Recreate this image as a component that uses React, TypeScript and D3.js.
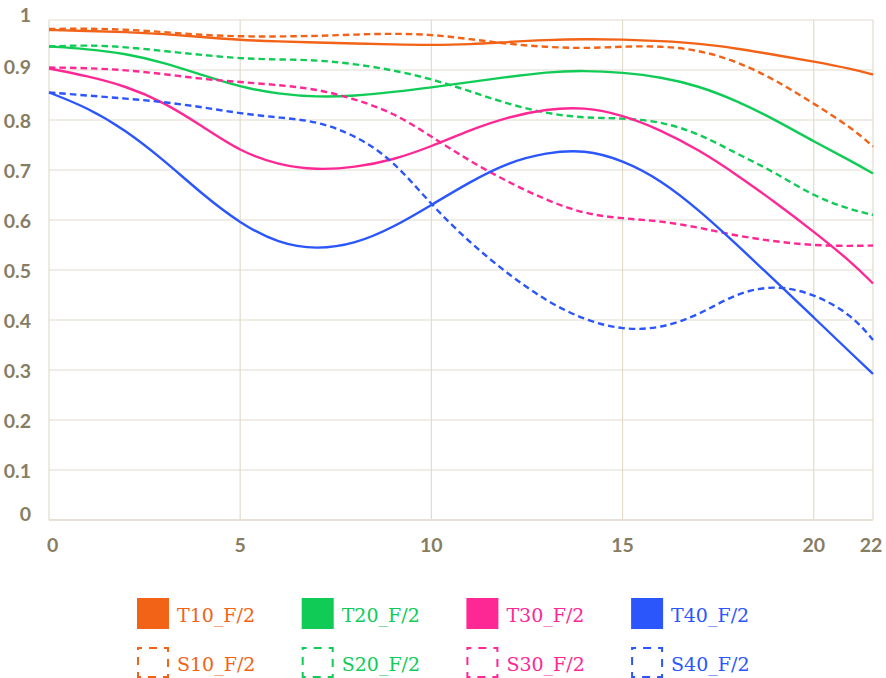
import React from 'react';
import * as d3 from 'd3';

// image height (mm) at which each MTF value is read
const FIELD = [0, 1, 2, 3, 4, 5, 6, 7, 8, 9, 10, 11, 12, 13, 14, 15, 16, 17, 18, 19, 20, 21, 21.55];

const T10 = [0.98, 0.978, 0.976, 0.972, 0.966, 0.96, 0.957, 0.955, 0.953, 0.951, 0.95, 0.951, 0.956, 0.96, 0.962, 0.961, 0.958, 0.953, 0.943, 0.93, 0.917, 0.902, 0.891];
const S10 = [0.982, 0.983, 0.981, 0.976, 0.97, 0.967, 0.967, 0.968, 0.971, 0.973, 0.971, 0.962, 0.952, 0.946, 0.943, 0.947, 0.948, 0.94, 0.917, 0.88, 0.833, 0.784, 0.747];
const T20 = [0.947, 0.942, 0.933, 0.915, 0.89, 0.866, 0.852, 0.846, 0.848, 0.856, 0.865, 0.876, 0.886, 0.896, 0.899, 0.895, 0.886, 0.868, 0.838, 0.8, 0.757, 0.717, 0.693];
const S20 = [0.947, 0.95, 0.946, 0.938, 0.93, 0.923, 0.921, 0.92, 0.912, 0.9, 0.882, 0.858, 0.832, 0.813, 0.804, 0.804, 0.797, 0.773, 0.732, 0.695, 0.647, 0.62, 0.61];
const T30 = [0.903, 0.888, 0.868, 0.836, 0.788, 0.737, 0.71, 0.7, 0.705, 0.72, 0.747, 0.78, 0.806, 0.822, 0.826, 0.81, 0.78, 0.74, 0.69, 0.635, 0.577, 0.515, 0.473];
const S30 = [0.905, 0.904, 0.9, 0.892, 0.882, 0.876, 0.87, 0.862, 0.842, 0.815, 0.767, 0.718, 0.676, 0.64, 0.612, 0.603, 0.598, 0.585, 0.568, 0.557, 0.549, 0.548, 0.549];
const T40 = [0.855, 0.825, 0.78, 0.72, 0.652, 0.593, 0.553, 0.541, 0.552, 0.585, 0.63, 0.676, 0.715, 0.735, 0.741, 0.72, 0.68, 0.62, 0.55, 0.478, 0.405, 0.332, 0.292];
const S40 = [0.855, 0.849, 0.843, 0.836, 0.826, 0.813, 0.805, 0.798, 0.77, 0.72, 0.63, 0.555, 0.492, 0.438, 0.4, 0.38, 0.383, 0.41, 0.455, 0.47, 0.453, 0.41, 0.36];

const SERIES_NAMES = ['T10_F/2', 'S10_F/2', 'T20_F/2', 'S20_F/2', 'T30_F/2', 'S30_F/2', 'T40_F/2', 'S40_F/2'];
const SERIES_VALUES = [T10, S10, T20, S20, T30, S30, T40, S40];
const COLORS = ['#f26217', '#f26217', '#10cb56', '#10cb56', '#fe2895', '#fe2895', '#2b56fb', '#2b56fb'];

const X_TICKS = [0, 5, 10, 15, 20, 21.55];
const X_TICK_LABELS = ['0', '5', '10', '15', '20', '22'];
const Y_TICKS = [0, 0.1, 0.2, 0.3, 0.4, 0.5, 0.6, 0.7, 0.8, 0.9, 1];
const Y_TICK_LABELS = ['0', '0.1', '0.2', '0.3', '0.4', '0.5', '0.6', '0.7', '0.8', '0.9', '1'];

const W = 886;
const H = 678;
const AXIS_COLOR = '#877d63';
const GRID_COLOR = '#e2dccd';

export default function App() {
  const margin = { top: 20, right: 13, bottom: 158, left: 49 };

  const x = d3.scaleLinear().domain([0, 21.55]).range([margin.left, W - margin.right]);
  const y = d3.scaleLinear().domain([0, 1]).range([H - margin.bottom, margin.top]);

  const line = d3
    .line<number>()
    .x((_, i) => x(FIELD[i]))
    .y(d => y(d))
    .curve(d3.curveBasis);

  const series = SERIES_NAMES.map((name, i) => ({
    name,
    values: SERIES_VALUES[i],
    color: COLORS[i],
    dashed: name.startsWith('S'),
  }));

  // legend: solid (T) on the first row, dashed (S) on the second
  const legendX = (i: number) => 137 + i * 164.7;
  const legendY = (row: number) => 598 + row * 49;

  return (
    <svg
      width={W}
      height={H}
      style={{ position: 'absolute', left: 0, top: 0, background: '#fff' }}
    >
      {/* grid */}
      <g>
        {Y_TICKS.map(t => (
          <line
            key={`gy${t}`}
            x1={x(0)}
            x2={x(21.55)}
            y1={y(t)}
            y2={y(t)}
            stroke={GRID_COLOR}
            strokeWidth={1.2}
          />
        ))}
        {X_TICKS.map(t => (
          <line
            key={`gx${t}`}
            x1={x(t)}
            x2={x(t)}
            y1={y(0)}
            y2={y(1)}
            stroke={GRID_COLOR}
            strokeWidth={1.2}
          />
        ))}
        <line x1={x(0)} x2={x(21.55)} y1={y(0)} y2={y(0)} stroke="#e6e1d4" strokeWidth={2} />
      </g>

      {/* axis labels */}
      <g fill={AXIS_COLOR} fontFamily="Lato, sans-serif" fontWeight={700} fontSize={19.5}>
        {Y_TICKS.map((t, i) => {
          const shift = i === 0 ? -6.5 : i === Y_TICKS.length - 1 ? -6 : i === Y_TICKS.length - 2 ? -3.5 : 0;
          return (
            <text key={`ly${t}`} x={31} y={y(t) + shift} textAnchor="end" dominantBaseline="central">
              {Y_TICK_LABELS[i]}
            </text>
          );
        })}
        {X_TICKS.map((t, i) => (
          <text
            key={`lx${t}`}
            x={i === 0 ? x(t) - 2 : x(t) - (i === X_TICKS.length - 1 ? 2 : 0)}
            y={552}
            textAnchor={i === 0 ? 'start' : 'middle'}
          >
            {X_TICK_LABELS[i]}
          </text>
        ))}
      </g>

      {/* curves */}
      <g fill="none">
        {series.map(s => (
          <path
            key={s.name}
            d={line(s.values) ?? ''}
            stroke={s.color}
            strokeWidth={2.4}
            strokeDasharray={s.dashed ? '6.5,4' : undefined}
          />
        ))}
      </g>

      {/* legend */}
      <g fontFamily="'DejaVu Serif', serif" fontSize={19}>
        {series.map((s, i) => {
          const col = Math.floor(i / 2);
          const row = i % 2;
          const lx = legendX(col);
          const ly = legendY(row);
          return (
            <g key={`lg${s.name}`} transform={`translate(${lx},${ly})`}>
              {s.dashed ? (
                <rect
                  x={1}
                  y={1}
                  width={30}
                  height={29}
                  fill="none"
                  stroke={s.color}
                  strokeWidth={2}
                  strokeDasharray="8,7"
                  strokeDashoffset={4}
                />
              ) : (
                <rect x={0} y={0} width={32} height={31} fill={s.color} />
              )}
              <text x={40} y={24} fill={s.color}>
                {s.name}
              </text>
            </g>
          );
        })}
      </g>
    </svg>
  );
}
